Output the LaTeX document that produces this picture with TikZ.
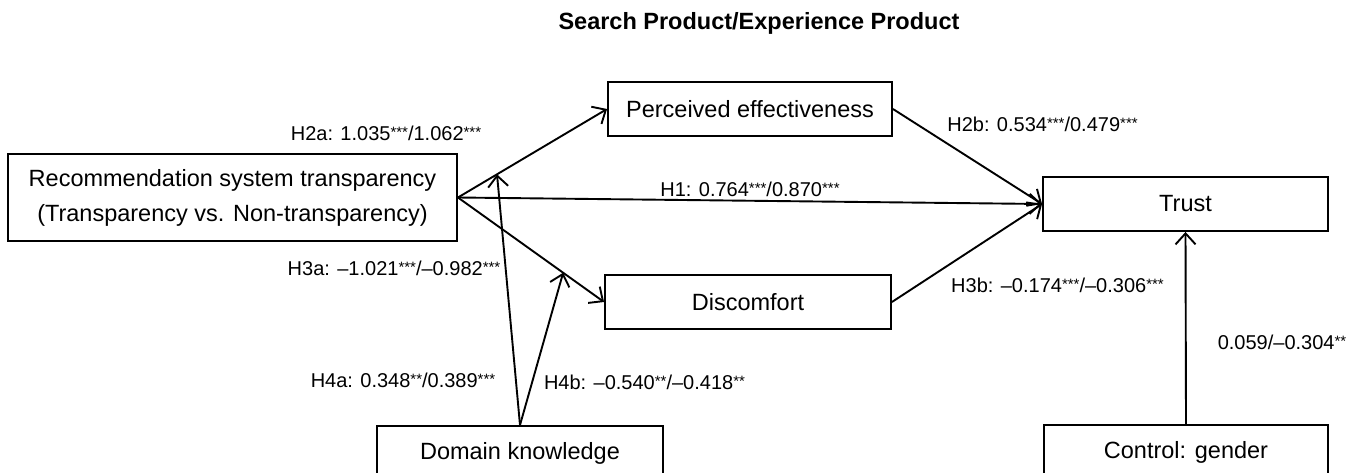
\documentclass[tikz,border=0pt]{standalone}
\usepackage{fontspec}
\setmainfont{Liberation Sans}
\usetikzlibrary{arrows.meta,calc}
\newcommand{\stars}[1]{{\fontsize{15}{15}\selectfont\raisebox{2.5pt}{#1}}}
\begin{document}
\begin{tikzpicture}[x=1pt,y=-1pt,
  box/.style={draw,line width=1.9pt,inner sep=0pt,align=center,font=\fontsize{23.5}{35}\selectfont},
  lab/.style={inner sep=0pt,font=\fontsize{20}{24}\selectfont},
  conn/.style={line width=1.9pt,-{Straight Barb[length=11pt,width=20pt,line width=1.9pt]}}]
\clip (0,0) rectangle (1360,473);
\fill[white] (0,0) rectangle (1360,473);
% title
\node[inner sep=0pt,font=\fontsize{23.5}{28}\selectfont\bfseries] (title) at (759,23) {Search Product/Experience Product};
% boxes
\node[box,minimum width=449pt,minimum height=87pt] (rec) at (232.5,197.5) {Recommendation system transparency\\(Transparency vs. Non-transparency)};
\node[box,minimum width=284pt,minimum height=54pt] (pe) at (750,109) {Perceived effectiveness};
\node[box,minimum width=286pt,minimum height=54pt] (dis) at (748,302) {Discomfort};
\node[box,minimum width=285pt,minimum height=54pt] (trust) at (1185.5,204) {Trust};
\node[box,minimum width=286pt,minimum height=54pt] (dk) at (520,453) {Domain knowledge};
\node[box,minimum width=284pt,minimum height=54pt] (ctrl) at (1186,452) {Control: gender};
% connectors
\draw[conn] (rec.east) -- (pe.west);
\draw[conn] (rec.east) -- (trust.west);
\draw[conn] (rec.east) -- (dis.west);
\draw[conn] (pe.east) -- (trust.west);
\draw[conn] (dis.east) -- (trust.west);
\draw[conn] (ctrl.north) -- (trust.south);
\coordinate (m1) at ($(rec.east)!0.262!(pe.west)$);
\coordinate (m2) at ($(rec.east)!0.72!(dis.west)$);
\draw[conn] (dk.north) -- (m1);
\draw[conn] (dk.north) -- (m2);
% labels
\node[lab] (h2a) at (386,133) {H2a: 1.035\stars{***}/1.062\stars{***}};
\node[lab] (h3a) at (394,268) {H3a: \textendash1.021\stars{***}/\textendash0.982\stars{***}};
\node[lab] (h1) at (750,189) {H1: 0.764\stars{***}/0.870\stars{***}};
\node[lab] (h2b) at (1042.5,124) {H2b: 0.534\stars{***}/0.479\stars{***}};
\node[lab] (h3b) at (1057.5,285) {H3b: \textendash0.174\stars{***}/\textendash0.306\stars{***}};
\node[lab] (gen) at (1282,342) {0.059/\textendash0.304\stars{**}};
\node[lab] (h4a) at (403,380) {H4a: 0.348\stars{**}/0.389\stars{***}};
\node[lab] (h4b) at (644.5,382) {H4b: \textendash0.540\stars{**}/\textendash0.418\stars{**}};
\end{tikzpicture}
\end{document}
